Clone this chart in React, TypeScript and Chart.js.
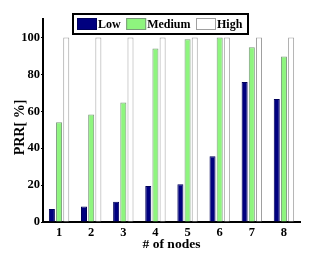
import React, { useEffect, useRef } from 'react';
import { Chart, registerables } from 'chart.js';

Chart.register(...registerables);

const categories = ['1', '2', '3', '4', '5', '6', '7', '8'];
const seriesNames = ['Low', 'Medium', 'High'];
const lowValues = [7, 8.4, 11, 19.5, 20.5, 35.6, 75.8, 66.7];
const mediumValues = [54, 58.2, 64.7, 94, 99, 100, 94.7, 89.7];
const highValues = [100, 100, 100, 100, 100, 100, 100, 100];
const yTickValues = [0, 20, 40, 60, 80, 100];
const yMin = 0;
const yMax = 110;

const FONT = "'Times New Roman', 'Liberation Serif', serif";

export default function App() {
  const ref = useRef<HTMLCanvasElement>(null);

  useEffect(() => {
    document.body.style.margin = '0';
    const canvas = ref.current;
    if (!canvas) return;

    const legendPlugin = {
      id: 'boxLegend',
      afterDraw(chart: any) {
        const ctx = chart.ctx;
        ctx.save();
        const x0 = 73, y0 = 14, w = 175, h = 20;
        ctx.fillStyle = '#ffffff';
        ctx.fillRect(x0, y0, w, h);
        ctx.lineWidth = 2;
        ctx.strokeStyle = '#000000';
        ctx.strokeRect(x0, y0, w, h);
        ctx.font = `bold 12px ${FONT}`;
        ctx.textBaseline = 'middle';
        ctx.textAlign = 'left';
        let x = x0 + 4;
        chart.data.datasets.forEach((ds: any) => {
          ctx.fillStyle = ds.backgroundColor;
          ctx.fillRect(x, y0 + 4, 20, 12);
          ctx.lineWidth = 1;
          ctx.strokeStyle = ds.borderColor;
          ctx.strokeRect(x + 0.5, y0 + 4.5, 19, 11);
          ctx.fillStyle = '#000000';
          ctx.fillText(ds.label, x + 21, y0 + h / 2 + 0.5);
          x += 21 + ctx.measureText(ds.label).width + 5.5;
        });
        ctx.restore();
      },
    };

    const tickFont = { family: FONT, size: 12.5, weight: 'bold' as const };
    const titleFont = { family: FONT, size: 14, weight: 'bold' as const };

    const chart = new Chart(canvas, {
      type: 'bar',
      data: {
        labels: categories,
        datasets: [
          {
            label: seriesNames[0],
            data: lowValues,
            backgroundColor: '#00007f',
            borderColor: '#00005a',
            borderWidth: 1,
          },
          {
            label: seriesNames[1],
            data: mediumValues,
            backgroundColor: '#8ef57e',
            borderColor: '#7a9a7a',
            borderWidth: 1,
          },
          {
            label: seriesNames[2],
            data: highValues,
            backgroundColor: '#ffffff',
            borderColor: '#a0a0a0',
            borderWidth: 1,
          },
        ],
      },
      options: {
        responsive: false,
        animation: false,
        devicePixelRatio: 1,
        categoryPercentage: 0.67,
        barPercentage: 0.84,
        layout: { padding: { top: 19, right: 32, left: 0, bottom: 0 } },
        plugins: {
          legend: { display: false },
          tooltip: { enabled: false },
        },
        scales: {
          x: {
            offset: true,
            grid: { display: true, drawOnChartArea: false, drawTicks: false },
            border: { display: true, color: '#000000', width: 2 },
            ticks: { font: tickFont, color: '#000000', padding: 3 },
            title: {
              display: true,
              text: '# of nodes',
              font: { family: FONT, size: 13.5, weight: 'bold' as const },
              color: '#000000',
              padding: { top: 0, bottom: 3 },
            },
            afterFit(axis: any) {
              axis.height = 34;
            },
          },
          y: {
            min: yMin,
            max: yMax,
            afterBuildTicks(axis: any) {
              axis.ticks = yTickValues.map((v) => ({ value: v }));
            },
            grid: {
              display: true,
              drawOnChartArea: false,
              drawTicks: true,
              tickLength: 2,
              color: '#000000',
            },
            border: { display: true, color: '#000000', width: 2 },
            ticks: { font: tickFont, color: '#000000', padding: 1 },
            title: {
              display: true,
              text: 'PRR[ %]    ',
              font: titleFont,
              color: '#000000',
              padding: { top: 12, bottom: 0 },
            },
            afterFit(axis: any) {
              axis.width = 43;
            },
          },
        },
      },
      plugins: [legendPlugin],
    });

    return () => chart.destroy();
  }, []);

  return (
    <div style={{ position: 'absolute', left: 0, top: 0, width: 332, height: 256 }}>
      <canvas ref={ref} width={332} height={256} />
    </div>
  );
}
